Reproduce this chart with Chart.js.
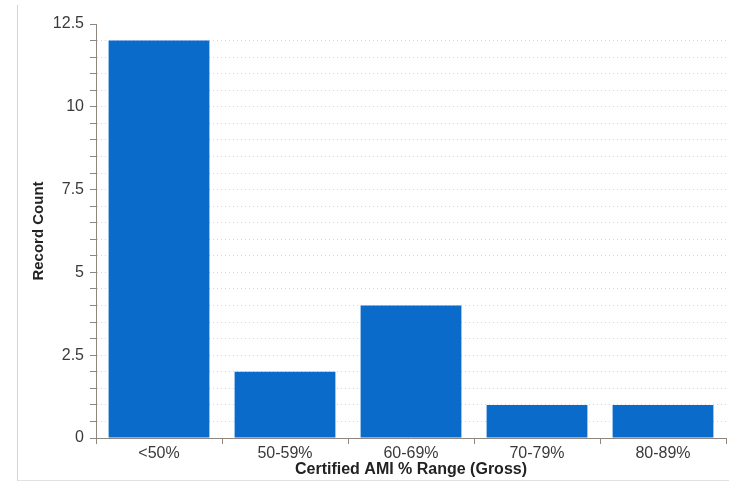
<!DOCTYPE html>
<html>
<head>
<meta charset="utf-8">
<script src="https://cdn.jsdelivr.net/npm/chart.js@4"></script>
<style>
    html, body { margin: 0; padding: 0; background: #fff; }
    #wrap { position: relative; width: 729px; height: 483px; }
    #frame {
        position: absolute; left: 17px; top: 5px; width: 712px; height: 476px;
        border-left: 1px solid #d4d4d4; border-bottom: 1px solid #e2e2e2;
        box-sizing: border-box; pointer-events: none;
    }
</style>
</head>
<body>
<div id="wrap">
    <canvas id="chart" width="729" height="483"></canvas>
    <div id="frame"></div>
</div>
<script>
const categories = ['<50%', '50-59%', '60-69%', '70-79%', '80-89%'];
const recordCounts = [12, 2, 4, 1, 1];
const yMajorTicks = [0, 2.5, 5, 7.5, 10, 12.5];

const axisColor = '#8f877f';
const labelColor = '#3a3a3a';
const fontFamily = 'Liberation Sans, Arial, sans-serif';

function createBarChart(canvasId) {
    const canvas = document.getElementById(canvasId);

    if (!canvas) return;

    new Chart(canvas, {
        type: 'bar',
        data: {
            labels: categories,
            datasets: [{
                label: 'Record Count',
                data: recordCounts,
                backgroundColor: '#0a6bcb',
                borderWidth: 0,
                categoryPercentage: 0.8,
                barPercentage: 1
            }]
        },
        options: {
            responsive: false,
            animation: false,
            layout: {
                padding: { left: 17, right: 3, top: 24, bottom: 2 }
            },
            plugins: {
                legend: { display: false },
                tooltip: { enabled: false }
            },
            scales: {
                x: {
                    offset: true,
                    grid: {
                        offset: true,
                        drawOnChartArea: false,
                        drawTicks: true,
                        tickLength: 6,
                        tickColor: axisColor
                    },
                    border: { color: axisColor, width: 1 },
                    ticks: {
                        color: labelColor,
                        padding: 0,
                        font: { family: fontFamily, size: 16 }
                    },
                    title: {
                        display: true,
                        text: 'Certified AMI % Range (Gross)',
                        color: '#222',
                        padding: { top: 0, bottom: 2 },
                        font: { family: fontFamily, size: 16, weight: 'bold' }
                    },
                    afterFit: function (scale) { scale.height = 43; }
                },
                y: {
                    min: 0,
                    max: 12.5,
                    grid: {
                        color: function (ctx) {
                            if (!ctx.tick || ctx.tick.value === 0 || ctx.tick.value === 12.5) return 'rgba(0,0,0,0)';
                            return '#d6d6d6';
                        },
                        tickColor: axisColor,
                        tickLength: 6,
                        tickBorderDash: [],
                        lineWidth: 1
                    },
                    border: { color: axisColor, width: 1, dash: [1, 3] },
                    ticks: {
                        stepSize: 0.5,
                        autoSkip: false,
                        color: labelColor,
                        padding: 6,
                        font: { family: fontFamily, size: 16 },
                        callback: function (value) {
                            return yMajorTicks.includes(value) ? String(value) : '';
                        }
                    },
                    title: {
                        display: true,
                        text: 'Record Count',
                        color: '#222',
                        padding: { top: 13, bottom: 0 },
                        font: { family: fontFamily, size: 15, weight: 'bold' }
                    },
                    afterFit: function (scale) { scale.width = 79; }
                }
            }
        }
    });
}

createBarChart('chart');
</script>
</body>
</html>
